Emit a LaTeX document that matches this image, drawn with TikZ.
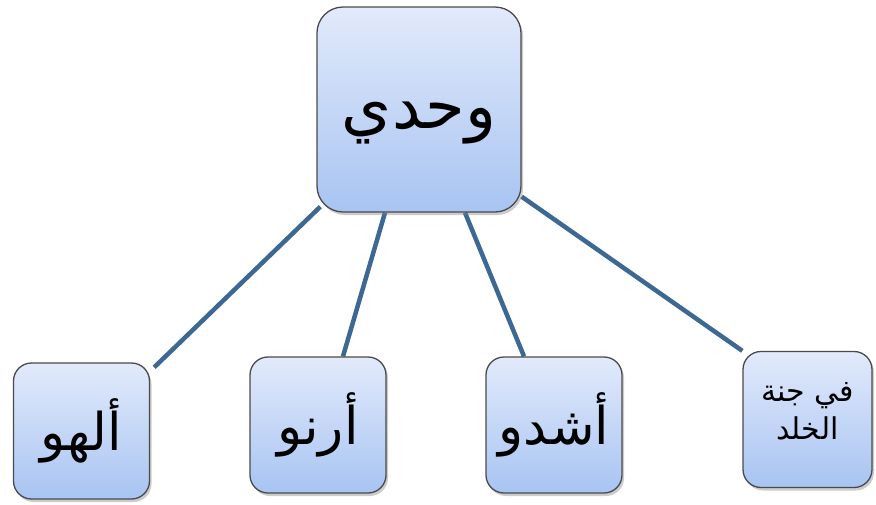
\documentclass[tikz,border=0pt]{standalone}
\usepackage{fontspec}
\usetikzlibrary{calc,shadows}
\TeXXeTstate=1
\newfontfamily\arabicfont[Script=Arabic]{DejaVu Sans}
\definecolor{boxtop}{HTML}{E2EAFB}
\definecolor{boxbot}{HTML}{A8C4F2}
\definecolor{boxline}{HTML}{4A4A4A}
\definecolor{linkcol}{HTML}{3D6894}
\pgfdeclarelayer{bg}
\pgfsetlayers{bg,main}
\tikzset{
  box/.style={rectangle, draw=boxline, line width=1.3pt, top color=boxtop, bottom color=boxbot,
    drop shadow={opacity=0.4, shadow xshift=2pt, shadow yshift=-3pt, fill=gray},
    inner sep=0pt, align=center, text=black},
  bigbox/.style={box, rounded corners=26pt, minimum width=204pt, minimum height=205pt,
    font=\arabicfont\fontsize{64}{76}\selectfont},
  smallbox/.style={box, rounded corners=18pt, minimum width=136pt, minimum height=136pt,
    font=\arabicfont\fontsize{52}{62}\selectfont},
  tinytext/.style={font=\arabicfont\fontsize{30}{38}\selectfont},
  link/.style={draw=linkcol, line width=4.5pt}
}
\begin{document}
\begin{tikzpicture}[x=1pt,y=-1pt]
\useasboundingbox (0,0) rectangle (876,504);
\node[bigbox] (top) at (419,109.5) {\raisebox{-14pt}[\height][\depth]{\beginR وحدي\endR}};
\node[smallbox] (b1) at (81.5,431) {\beginR ألهو\endR};
\node[smallbox] (b2) at (318,425) {\beginR أرنو\endR};
\node[smallbox] (b3) at (554,425) {\beginR أشدو\endR};
\node[smallbox, tinytext, minimum width=129pt] (b4) at (807.5,419.5) {\raisebox{8pt}[\height][\depth]{\beginR في جنة\endR}\\\raisebox{8pt}[\height][\depth]{\beginR الخلد\endR}};
\begin{pgfonlayer}{bg}
\fill[white] (0,0) rectangle (876,504);
\draw[link] ($(top.south west)+(4,-6)$) -- ($(b1.north east)+(4,5)$);
\draw[link] ($(top.south)+(-34,0)$) -- ($(b2.north)+(25,0)$);
\draw[link] ($(top.south)+(46,0)$) -- ($(b3.north)+(-30,0)$);
\draw[link] ($(top.south east)+(0,-16)$) -- (b4.north west);
\end{pgfonlayer}
\end{tikzpicture}
\end{document}
